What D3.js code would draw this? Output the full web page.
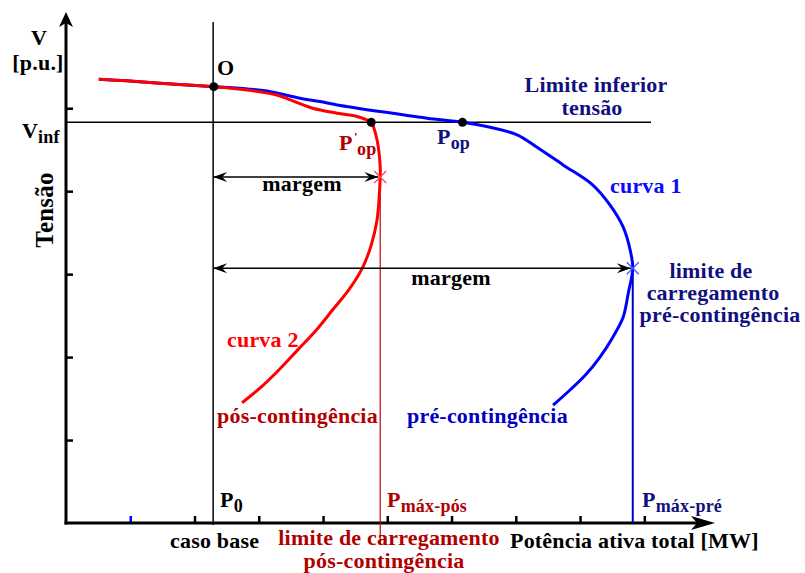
<!DOCTYPE html>
<html>
<head>
<meta charset="utf-8">
<script src="https://cdn.jsdelivr.net/npm/d3@7"></script>
<style>
  body { margin: 0; background: #fff; }
  text { font-family: "Liberation Serif", "Times New Roman", serif; font-weight: bold; letter-spacing: 0.2px; }
</style>
</head>
<body>
<svg id="chart" width="805" height="573"></svg>
<script>
// Curva 1 — P-V pré-contingência (potência e tensão em divisões dos eixos)
const curve1P = [0.51, 0.95, 1.46, 2.30, 2.86, 3.18, 3.64, 3.95, 4.22, 4.89, 5.62, 6.17, 6.60, 7.02, 7.33, 7.73, 8.19, 8.47, 8.67, 8.78, 8.82, 8.75, 8.67, 8.51, 8.31, 8.08, 7.84, 7.58];
const curve1V = [5.35, 5.33, 5.30, 5.26, 5.23, 5.20, 5.12, 5.08, 5.04, 4.96, 4.88, 4.83, 4.77, 4.68, 4.53, 4.32, 4.08, 3.83, 3.57, 3.29, 3.07, 2.77, 2.48, 2.24, 2.00, 1.78, 1.60, 1.42];

// Curva 2 — P-V pós-contingência
const curve2P = [0.51, 0.95, 1.46, 2.30, 2.82, 3.28, 3.56, 3.84, 4.22, 4.53, 4.68, 4.75, 4.84, 4.89, 4.89, 4.87, 4.84, 4.75, 4.61, 4.40, 4.15, 3.90, 3.61, 3.32, 3.04, 2.74];
const curve2V = [5.35, 5.33, 5.30, 5.26, 5.22, 5.16, 5.08, 5.00, 4.94, 4.90, 4.86, 4.83, 4.62, 4.29, 4.17, 3.89, 3.65, 3.35, 3.07, 2.81, 2.57, 2.33, 2.09, 1.85, 1.64, 1.45];

// Marcas de escala dos eixos (sem rótulos numéricos)
const xTicks = [1, 2, 3, 4, 5, 6, 7, 8, 9];
const yTicks = [1, 2, 3, 4, 5];

// Pontos notáveis
const P0 = 2.29;              // caso base
const Vinf = 4.83;            // limite inferior de tensão
const pointO = [2.30, 5.26];
const pointPopPos = [4.75, 4.83];
const pointPopPre = [6.17, 4.83];
const pMaxPos = 4.89, vMaxPos = 4.17;
const pMaxPre = 8.82, vMaxPre = 3.07;

const svg = d3.select("#chart");
const x = d3.scaleLinear().domain([0, 10.1]).range([66, 715]);
const y = d3.scaleLinear().domain([0, 6.16]).range([523, 12]);

const darkRed = "#b00000", navy = "#10107f";

// ---- Eixos ----
const xAxis = svg.append("g").attr("transform", `translate(0,${y(0)})`)
  .call(d3.axisBottom(x).tickValues(xTicks).tickSize(-7).tickSizeOuter(0).tickFormat(""));
xAxis.select(".domain").remove();
xAxis.selectAll(".tick line").attr("stroke", (d, i) => i === 0 ? "#0000ff" : "#000").attr("stroke-width", 2.5);

const yAxis = svg.append("g").attr("transform", `translate(${x(0)},0)`)
  .call(d3.axisLeft(y).tickValues(yTicks).tickSize(-7).tickSizeOuter(0).tickFormat(""));
yAxis.select(".domain").remove();
yAxis.selectAll(".tick line").attr("stroke", "#000").attr("stroke-width", 2.5);

svg.append("line").attr("x1", x(0) - 1.5).attr("x2", x(10.1) - 8)
  .attr("y1", y(0)).attr("y2", y(0)).attr("stroke", "#000").attr("stroke-width", 3);
svg.append("line").attr("x1", x(0)).attr("x2", x(0))
  .attr("y1", y(0) + 1.5).attr("y2", y(6.16) + 8).attr("stroke", "#000").attr("stroke-width", 3);

// pontas de seta dos eixos
const xt = [x(10.1), y(0)];
svg.append("path").attr("d", `M${xt[0]},${xt[1]} L${xt[0] - 24},${xt[1] - 7} L${xt[0] - 18},${xt[1]} L${xt[0] - 24},${xt[1] + 7} Z`).attr("fill", "#000");
const yt = [x(0), y(6.16)];
svg.append("path").attr("d", `M${yt[0]},${yt[1]} L${yt[0] - 7},${yt[1] + 15} L${yt[0]},${yt[1] + 11} L${yt[0] + 7},${yt[1] + 15} Z`).attr("fill", "#000");

// ---- Linhas de referência ----
svg.append("line").attr("x1", x(0)).attr("x2", 651).attr("y1", y(Vinf)).attr("y2", y(Vinf))
  .attr("stroke", "#000").attr("stroke-width", 1.5);
svg.append("line").attr("x1", x(P0)).attr("x2", x(P0)).attr("y1", 22).attr("y2", y(0) + 2)
  .attr("stroke", "#000").attr("stroke-width", 1.5);
svg.append("line").attr("x1", x(pMaxPos)).attr("x2", x(pMaxPos)).attr("y1", y(vMaxPos)).attr("y2", 545)
  .attr("stroke", "#c00000").attr("stroke-width", 1.2);
svg.append("line").attr("x1", x(pMaxPre)).attr("x2", x(pMaxPre)).attr("y1", y(vMaxPre)).attr("y2", y(0))
  .attr("stroke", "#0000c0").attr("stroke-width", 2);

// ---- Curvas P-V ----
const line = d3.line().x(d => x(d[0])).y(d => y(d[1])).curve(d3.curveCatmullRom.alpha(0.5));
svg.append("path").datum(d3.zip(curve1P, curve1V)).attr("d", line)
  .attr("fill", "none").attr("stroke", "#0000ff").attr("stroke-width", 3);
svg.append("path").datum(d3.zip(curve2P, curve2V)).attr("d", line)
  .attr("fill", "none").attr("stroke", "#ff0000").attr("stroke-width", 3);

// ---- Setas de margem ----
function marginArrow(p1, p2, v) {
  const yy = y(v), a = x(p1), b = x(p2);
  svg.append("line").attr("x1", a).attr("x2", b).attr("y1", yy).attr("y2", yy)
    .attr("stroke", "#000").attr("stroke-width", 1.5);
  svg.append("path").attr("d", `M${a},${yy} L${a + 14},${yy - 5} L${a + 9},${yy} L${a + 14},${yy + 5} Z`).attr("fill", "#000");
  svg.append("path").attr("d", `M${b},${yy} L${b - 14},${yy - 5} L${b - 9},${yy} L${b - 14},${yy + 5} Z`).attr("fill", "#000");
}
marginArrow(P0, pMaxPos - 0.03, vMaxPos);
marginArrow(P0, pMaxPre - 0.03, vMaxPre);

// ---- Marcadores de limite (x) ----
function cross(p, v, color) {
  const cx = x(p), cy = y(v), s = 6;
  svg.append("path").attr("d", `M${cx - s},${cy - s} L${cx + s},${cy + s} M${cx - s},${cy + s} L${cx + s},${cy - s}`)
    .attr("stroke", color).attr("stroke-width", 1.3).attr("fill", "none");
}
cross(pMaxPos, vMaxPos, "#ff4a4a");
cross(pMaxPre, vMaxPre, "#3a5cff");

// ---- Pontos de operação ----
svg.selectAll("circle.op").data([pointO, pointPopPos, pointPopPre]).enter().append("circle")
  .attr("cx", d => x(d[0])).attr("cy", d => y(d[1])).attr("r", 4.5).attr("fill", "#000");

// ---- Textos ----
const FS = 22, SUB = 18;
function label(t, px, py, opts = {}) {
  return svg.append("text").attr("x", px).attr("y", py)
    .attr("font-size", opts.size || FS)
    .attr("fill", opts.color || "#000")
    .attr("text-anchor", opts.anchor || "start")
    .text(t);
}
// texto com índice (subscrito)
function subLabel(main, sub, px, py, color, anchor) {
  const t = svg.append("text").attr("x", px).attr("y", py).attr("fill", color || "#000")
    .attr("font-size", FS).attr("text-anchor", anchor || "start");
  t.append("tspan").text(main);
  t.append("tspan").attr("font-size", SUB).attr("dy", 5).text(sub);
  return t;
}

label("V", 39, 45, { anchor: "middle" });
label("[p.u.]", 38, 70, { anchor: "middle" });
label("O", 217, 75);
subLabel("V", "inf", 22, 138);

svg.append("text").attr("transform", "translate(53,210) rotate(-90)")
  .attr("text-anchor", "middle").attr("font-size", 25).attr("fill", "#000").text("Tensão");

label("Limite inferior", 596, 92, { anchor: "middle", color: navy });
label("tensão", 592, 115, { anchor: "middle", color: navy });

// P'op: apóstrofo e índice desenhados à parte
label("P", 339, 150, { color: darkRed });
label("'", 354, 141, { color: darkRed, size: 13 });
label("op", 357, 155, { color: darkRed, size: SUB });

subLabel("P", "op", 437, 144, navy);

label("margem", 302, 191, { anchor: "middle" });
label("margem", 451, 285, { anchor: "middle" });

label("curva 1", 610, 193, { color: "#0a0aff" });
label("limite de", 711, 278, { anchor: "middle", color: navy });
label("carregamento", 713, 300, { anchor: "middle", color: navy });
label("pré-contingência", 720, 322, { anchor: "middle", color: navy });

label("curva 2", 227, 347, { color: "#ff0000" });
label("pós-contingência", 217, 423, { color: darkRed });
label("pré-contingência", 407, 423, { color: "#0000c0" });

subLabel("P", "0", 220, 507);
subLabel("P", "máx-pós", 387, 507, darkRed);
subLabel("P", "máx-pré", 642, 507, navy);

label("caso base", 170, 548);
label("limite de carregamento", 389, 545, { anchor: "middle", color: darkRed });
label("pós-contingência", 384, 568, { anchor: "middle", color: darkRed });
label("Potência ativa total [MW]", 510, 548);
</script>
</body>
</html>
